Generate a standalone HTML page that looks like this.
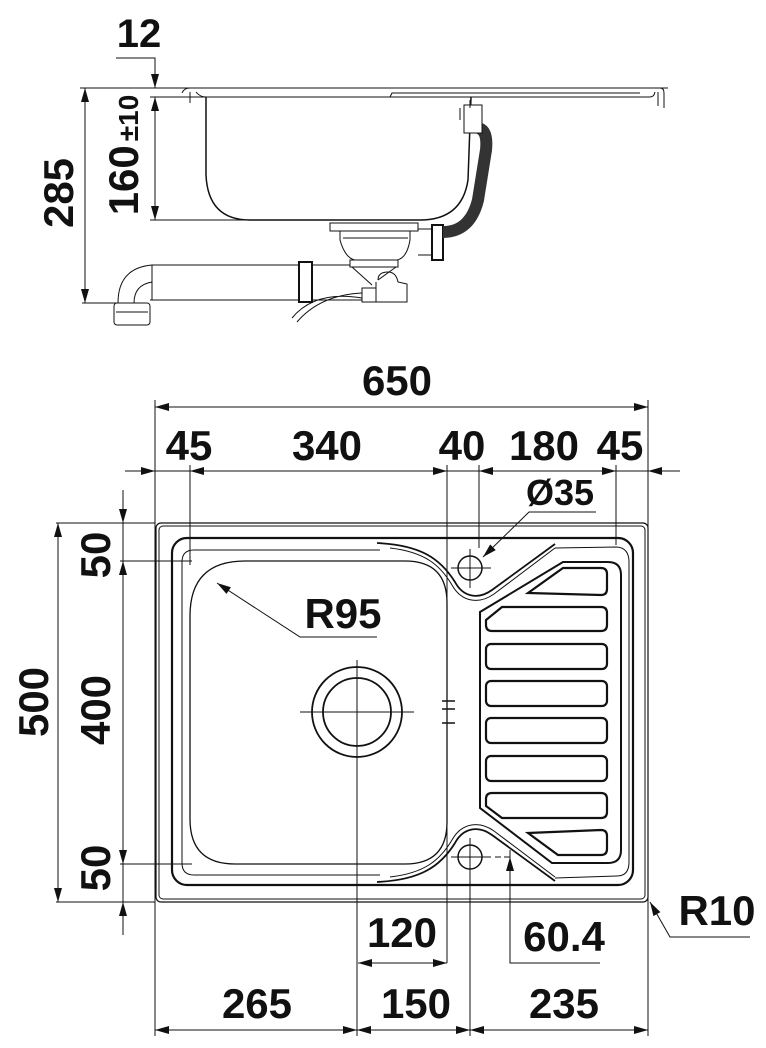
<!DOCTYPE html>
<html><head><meta charset="utf-8"><style>
html,body{margin:0;padding:0;background:#fff}
svg{display:block}
text{font-family:"Liberation Sans",sans-serif;font-weight:bold;fill:#111}
</style></head><body>
<svg width="766" height="1048" viewBox="0 0 766 1048" xmlns="http://www.w3.org/2000/svg">
<defs>
<marker id="a" viewBox="0 0 14 8" refX="14" refY="4" markerWidth="14" markerHeight="8" markerUnits="userSpaceOnUse" orient="auto-start-reverse"><path d="M0,0 L14,4 L0,8 Z" fill="#111"/></marker>
</defs>
<g fill="none" stroke="#111" stroke-width="1">
<path d="M116,58 H155 V88" marker-end="url(#a)"/>
<line x1="80" y1="88" x2="668" y2="88"/>
<line x1="150" y1="97" x2="206" y2="97"/>
<line x1="82" y1="303" x2="118" y2="303"/>
<line x1="85" y1="88" x2="85" y2="303" marker-start="url(#a)" marker-end="url(#a)"/>
<line x1="155" y1="97" x2="155" y2="220" marker-start="url(#a)" marker-end="url(#a)"/>
<line x1="150" y1="220" x2="330" y2="220"/>
<path d="M182,93 Q184,88 190,88 L660,88 Q664,88 664,93 L664,108"/>
<path d="M190,92 L190,103"/>
<path d="M196,92 Q200,97 206,97 L650,97 Q654,97 655,92"/>
<path d="M658,92 L658,106"/>
<path d="M390,97 L392,93 L640,93"/>
<path d="M206,97 L206,175 Q208,220 250,220 L420,220 Q462,220 468,180 L471,97" stroke-width="1.5"/>
<rect x="330" y="223" width="88" height="8"/>
<path d="M340,231 L340,240 Q345,258 355,260 L397,260 Q407,258 410,240 L410,231"/>
<line x1="343" y1="238" x2="408" y2="238"/>
<rect x="350" y="260" width="48" height="7"/>
<path d="M418,229 H432 M418,255 H432"/>
<rect x="432" y="225" width="11" height="35" stroke-width="2"/>
<path d="M443,232 Q470,232 478,200 L486,150 Q488,130 478,128" stroke="#333" stroke-width="12"/>
<rect x="464" y="105" width="18" height="28" fill="#fff"/>
<path d="M460,108 v12 M470,100 v8"/>
<path d="M152,265 H300 M150,300 H300 M312,265 H350 M312,300 H362"/>
<rect x="299" y="262" width="13" height="40" stroke-width="2"/>
<path d="M152,265 Q118,268 118,303 M152,282 Q134,285 134,303 M152,265 V300"/>
<rect x="114" y="303" width="36" height="22" rx="3"/>
<line x1="116" y1="312" x2="148" y2="312"/>
<path d="M352,267 L372,285 M396,267 L378,280"/>
<path d="M378,280 Q378,272 388,272 Q396,272 398,282 L407,284 L407,302 L376,302 L376,282"/>
<rect x="362" y="288" width="14" height="14"/>
<path d="M297,322 Q320,295 362,293 M292,318 Q315,290 362,298"/>
<line x1="155" y1="407" x2="648" y2="407" marker-start="url(#a)" marker-end="url(#a)"/>
<line x1="155" y1="400" x2="155" y2="1036"/>
<line x1="648" y1="400" x2="648" y2="1036"/>
<line x1="125" y1="471" x2="155" y2="471" marker-end="url(#a)"/>
<line x1="190" y1="471" x2="447" y2="471" marker-start="url(#a)" marker-end="url(#a)"/>
<line x1="479" y1="471" x2="616" y2="471" marker-start="url(#a)" marker-end="url(#a)"/>
<line x1="680" y1="471" x2="648" y2="471" marker-end="url(#a)"/>
<line x1="155" y1="471" x2="190" y2="471"/>
<line x1="447" y1="471" x2="479" y2="471"/>
<line x1="616" y1="471" x2="648" y2="471"/>
<line x1="190" y1="465" x2="190" y2="565"/>
<line x1="447" y1="465" x2="447" y2="963"/>
<line x1="479" y1="465" x2="479" y2="548"/>
<line x1="616" y1="465" x2="616" y2="545"/>
<line x1="56" y1="523" x2="155" y2="523"/>
<line x1="56" y1="902" x2="155" y2="902"/>
<line x1="58" y1="523" x2="58" y2="902" marker-start="url(#a)" marker-end="url(#a)"/>
<line x1="120" y1="561" x2="192" y2="561"/>
<line x1="120" y1="864" x2="192" y2="864"/>
<line x1="123" y1="561" x2="123" y2="864" marker-start="url(#a)" marker-end="url(#a)"/>
<line x1="123" y1="490" x2="123" y2="523" marker-end="url(#a)"/>
<line x1="123" y1="935" x2="123" y2="902" marker-end="url(#a)"/>
<line x1="123" y1="523" x2="123" y2="561"/>
<line x1="123" y1="864" x2="123" y2="902"/>
<rect x="156" y="523" width="492" height="379" rx="5" stroke-width="1.2"/>
<rect x="159" y="526" width="486" height="373" rx="4"/>
<rect x="172" y="538" width="461" height="347" rx="15" stroke-width="2.2"/>
<path d="M380,550 L194,550 Q182,550 182,562 L182,863 Q182,875 194,875 L380,875"/>
<path d="M245,561 L405,561 Q447,561 447,603 L447,822 Q447,864 405,864 L235,864 Q190,864 190,819 L190,616 Q190,561 245,561 Z" stroke-width="1.3"/>
<circle cx="357" cy="712" r="45" stroke-width="1.8"/>
<circle cx="357" cy="712" r="34" stroke-width="1.8"/>
<line x1="300" y1="712" x2="414" y2="712"/>
<line x1="357" y1="660" x2="357" y2="1036"/>
<path d="M442,701 H455 M442,709 H455 M442,723 H455" stroke-width="1.5"/>
<path d="M377,543 C420,545 440,558 455,582 C463,597 478,600 492,590 L555,544" stroke-width="1.8"/>
<path d="M390,548 C425,552 440,565 452,585 C462,603 480,604 494,594 L555,548"/>
<path d="M377,882 C420,880 440,867 455,843 C463,828 478,825 492,835 L555,881" stroke-width="1.8"/>
<path d="M390,877 C425,873 440,860 452,840 C462,822 480,821 494,831 L555,877"/>
<path d="M555,548 L617,547 Q629,548 629,562 L629,862 Q629,876 617,876 L555,878"/>
<path d="M480,612 L563,562 L608,562 Q621,562 621,575 L621,850 Q621,863 608,863 L552,863 L480,808 Z" stroke-width="2"/>
<g stroke-width="2.2">
<path d="M528,593 L563,568 L601,568 Q607,568 607,574 L607,589 Q607,595 601,595 Z"/>
<path d="M502,607 L601,607 Q607,607 607,613 L607,625 Q607,631 601,631 L492,631 Q486,631 486,625 L486,620 Z"/>
<rect x="486" y="644" width="121" height="25" rx="5"/>
<rect x="486" y="681" width="121" height="25" rx="5"/>
<rect x="486" y="718" width="121" height="25" rx="5"/>
<rect x="486" y="756" width="121" height="25" rx="5"/>
<path d="M492,793 L601,793 Q607,793 607,799 L607,812 Q607,818 601,818 L502,818 L486,806 L486,799 Q486,793 492,793 Z"/>
<path d="M528,833 L601,830 Q607,830 607,836 L607,849 Q607,855 601,855 L558,855 Z"/>
</g>
<circle cx="470" cy="568" r="12" stroke-width="1.5"/>
<path d="M451,568 H491 M470,549 V588"/>
<circle cx="470" cy="857" r="12" stroke-width="1.5"/>
<path d="M451,857 H491 M470,838 V1036"/>
<path d="M495,857 H512" stroke-dasharray="6,3"/>
<line x1="510" y1="900" x2="510" y2="857" marker-end="url(#a)"/>
<line x1="510" y1="850" x2="510" y2="902"/>
<path d="M510,902 V963 H600"/>
<path d="M596,512 H529 L483,557" marker-end="url(#a)"/>
<path d="M377,637 H300 L217,583" marker-end="url(#a)"/>
<path d="M750,937 H670 L650,902" marker-end="url(#a)"/>
<line x1="358" y1="963" x2="447" y2="963" marker-start="url(#a)" marker-end="url(#a)"/>
<line x1="155" y1="1030" x2="357" y2="1030" marker-start="url(#a)" marker-end="url(#a)"/>
<line x1="357" y1="1030" x2="470" y2="1030" marker-start="url(#a)" marker-end="url(#a)"/>
<line x1="470" y1="1030" x2="648" y2="1030" marker-start="url(#a)" marker-end="url(#a)"/>
</g>
<g font-size="42" text-anchor="middle">
<text x="139" y="47" font-size="40">12</text>
<text transform="translate(73,193) rotate(-90)">285</text>
<text transform="translate(138,155) rotate(-90)">160<tspan font-size="28" dx="4">±10</tspan></text>
<text x="397" y="395">650</text>
<text x="189" y="460">45</text>
<text x="327" y="460">340</text>
<text x="462" y="460">40</text>
<text x="544" y="460">180</text>
<text x="620" y="460">45</text>
<text x="560" y="505" font-size="36">Ø35</text>
<text x="343" y="628">R95</text>
<text transform="translate(48,702) rotate(-90)">500</text>
<text transform="translate(110,710) rotate(-90)">400</text>
<text transform="translate(110,555) rotate(-90)">50</text>
<text transform="translate(110,868) rotate(-90)">50</text>
<text x="717" y="925">R10</text>
<text x="402" y="947">120</text>
<text x="564" y="951">60.4</text>
<text x="257" y="1018">265</text>
<text x="416" y="1018">150</text>
<text x="564" y="1018">235</text>
</g>
</svg>
</body></html>
